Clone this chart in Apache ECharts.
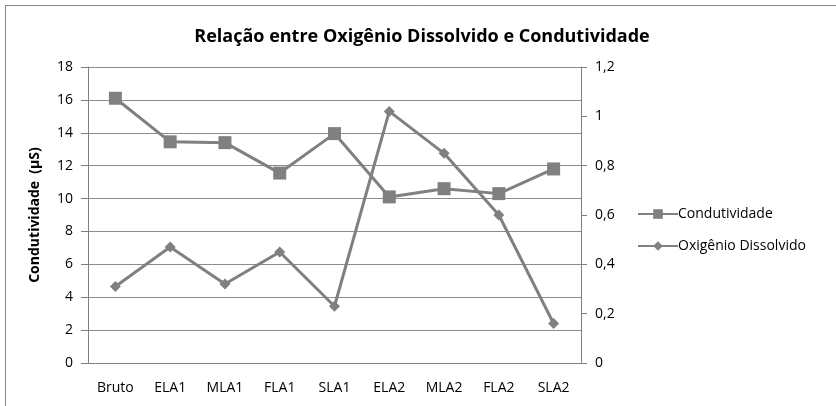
<!DOCTYPE html>
<html>
<head>
<meta charset="utf-8">
<script src="https://cdn.jsdelivr.net/npm/echarts@6/dist/echarts.min.js"></script>
<style>
  html, body { margin: 0; padding: 0; background: #fff; }
  #chart { width: 836px; height: 406px; }
</style>
</head>
<body>
<div id="chart"></div>
<script>
  // categorias e valores
  const categorias = ['Bruto', 'ELA1', 'MLA1', 'FLA1', 'SLA1', 'ELA2', 'MLA2', 'FLA2', 'SLA2'];
  const condutividade = [16.1, 13.45, 13.4, 11.55, 13.95, 10.1, 10.6, 10.3, 11.8];
  const oxigenio = [0.31, 0.47, 0.32, 0.45, 0.23, 1.02, 0.85, 0.6, 0.16];
  const ticksEsq = [0, 2, 4, 6, 8, 10, 12, 14, 16, 18];
  const ticksDir = [0, 0.2, 0.4, 0.6, 0.8, 1, 1.2];

  const cinza = '#808080';
  const fonte = 'Open Sans';

  const chart = echarts.init(document.getElementById('chart'));
  chart.setOption({
    animation: false,
    backgroundColor: '#fff',
    title: {
      text: 'Relação entre Oxigênio Dissolvido e Condutividade',
      left: 417, top: 23, textAlign: 'center',
      textStyle: { fontFamily: fonte, fontSize: 18, fontWeight: 'bold', color: '#000' }
    },
    graphic: [
      { type: 'line', shape: { x1: 5, y1: 5.5, x2: 836, y2: 5.5 }, style: { stroke: '#888', lineWidth: 1 } },
      { type: 'line', shape: { x1: 5.5, y1: 5, x2: 5.5, y2: 406 }, style: { stroke: '#888', lineWidth: 1 } }
    ],
    legend: {
      orient: 'vertical',
      left: 632, top: 202,
      itemGap: 18,
      itemWidth: 40, itemHeight: 12,
      textStyle: { fontFamily: fonte, fontSize: 14, color: '#000', padding: [0, 0, 0, -5] },
      data: ['Condutividade', 'Oxigênio Dissolvido']
    },
    grid: { left: 88, right: 255, top: 67, bottom: 43 },
    xAxis: {
      type: 'category',
      data: categorias,
      boundaryGap: true,
      axisLine: { lineStyle: { color: cinza } },
      axisTick: { show: false },
      axisLabel: { fontFamily: fonte, fontSize: 14, color: '#000', margin: 18 }
    },
    yAxis: [
      {
        type: 'value', min: ticksEsq[0], max: ticksEsq[ticksEsq.length - 1], interval: 2,
        name: 'Condutividade  (µS)', nameLocation: 'middle', nameGap: 46, nameRotate: 90,
        nameTextStyle: { fontFamily: fonte, fontSize: 14, fontWeight: 'bold', color: '#000' },
        axisLine: { show: true, lineStyle: { color: cinza } },
        axisTick: { show: true, length: 7, lineStyle: { color: cinza } },
        axisLabel: { fontFamily: fonte, fontSize: 14, color: '#000', margin: 15 },
        splitLine: { show: true, lineStyle: { color: '#8c8c8c', width: 1 } }
      },
      {
        type: 'value', min: ticksDir[0], max: ticksDir[ticksDir.length - 1], interval: 0.2,
        position: 'right',
        axisLine: { show: true, lineStyle: { color: cinza } },
        axisTick: { show: true, length: 6, lineStyle: { color: cinza } },
        axisLabel: {
          fontFamily: fonte, fontSize: 14, color: '#000', margin: 14,
          formatter: v => String(+v.toFixed(1)).replace('.', ',')
        },
        splitLine: { show: false }
      }
    ],
    series: [
      {
        name: 'Condutividade', type: 'line', yAxisIndex: 0,
        data: condutividade,
        symbol: 'rect', symbolSize: 13,
        itemStyle: { color: cinza },
        lineStyle: { color: cinza, width: 3 }
      },
      {
        name: 'Oxigênio Dissolvido', type: 'line', yAxisIndex: 1,
        data: oxigenio,
        symbol: 'diamond', symbolSize: 11,
        itemStyle: { color: cinza },
        lineStyle: { color: cinza, width: 3 }
      }
    ]
  });
</script>
</body>
</html>
